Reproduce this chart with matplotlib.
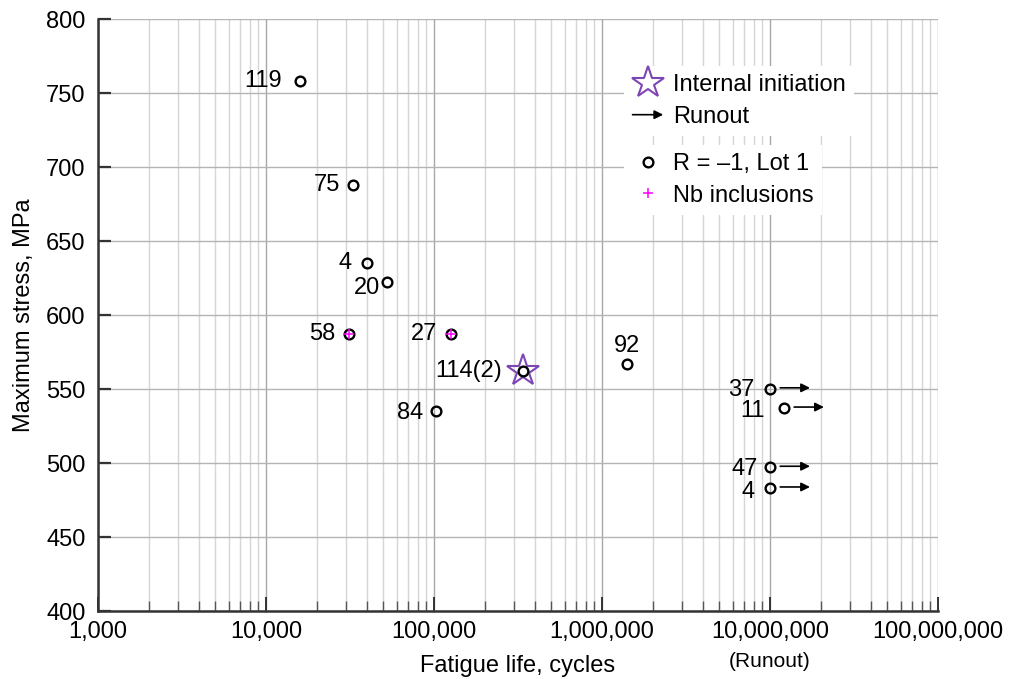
import matplotlib
matplotlib.use("Agg")
import matplotlib.pyplot as plt
from matplotlib.lines import Line2D
from matplotlib.legend_handler import HandlerBase
from matplotlib.patches import FancyArrowPatch
from matplotlib.ticker import FixedLocator, LogLocator, NullFormatter, FuncFormatter
from matplotlib.transforms import blended_transform_factory

plt.rcParams['font.family'] = ['Liberation Sans', 'DejaVu Sans']

# ---- data ----
cycles = [15900, 33000, 40000, 52500, 31200, 126000, 339000, 103000, 1410000,
          1.0e7, 1.21e7, 1.0e7, 1.0e7]
stress = [758, 688, 635, 622, 587, 587.5, 562, 535, 567, 550, 537, 497, 483]
labels = ['119', '75', '4', '20', '58', '27', '114(2)', '84', '92', '37', '11', '47', '4']
runout = [False] * 9 + [True] * 4
nb_inclusion = ['58', '27']
internal_init = ['114(2)']
x_ticks = [1e3, 1e4, 1e5, 1e6, 1e7, 1e8]
y_ticks = [400, 450, 500, 550, 600, 650, 700, 750, 800]

# label offsets (points): dx, dy, ha
label_offsets = [(-13, 0, 'right'), (-9, 0, 'right'), (-11, 0, 'right'), (-5, -4, 'right'),
                 (-10, 0, 'right'), (-10, 0, 'right'), (-15, 0, 'right'), (-9, -1, 'right'),
                 (0, 13, 'center'), (-11, -1, 'right'), (-14, -2, 'right'), (-9, -1, 'right'),
                 (-11, -3, 'right')]

FS = 17
PURPLE = '#7e45b5'

fig = plt.figure(figsize=(10.1, 6.79), dpi=100)
ax = fig.add_axes([98 / 1010, 68 / 679, 840 / 1010, 592 / 679])
ax.set_xscale('log')
ax.set_xlim(1e3, 1e8)
ax.set_ylim(400, 800)

# grid
ax.xaxis.set_major_locator(FixedLocator(x_ticks))
ax.xaxis.set_minor_locator(LogLocator(base=10, subs=range(2, 10), numticks=20))
ax.xaxis.set_minor_formatter(NullFormatter())
ax.xaxis.set_major_formatter(FuncFormatter(lambda v, p: f"{int(round(v)):,}"))
ax.yaxis.set_major_locator(FixedLocator(y_ticks))
ax.grid(True, which='major', axis='x', color='#a8a8a8', lw=1.0)
ax.grid(True, which='minor', axis='x', color='#d6d6d6', lw=1.0)
ax.grid(True, which='major', axis='y', color='#b4b4b4', lw=1.0)
ax.set_axisbelow(True)

for s in ['top', 'right']:
    ax.spines[s].set_visible(False)
for s in ['left', 'bottom']:
    ax.spines[s].set_color('#333333')
    ax.spines[s].set_linewidth(1.8)

ax.tick_params(axis='x', which='major', direction='in', length=10, width=1.4,
               color='#333333', labelsize=FS, pad=7)
ax.tick_params(axis='x', which='minor', direction='in', length=7, width=1.0,
               color='#555555')
ax.tick_params(axis='y', which='major', direction='in', length=9.5, width=1.6,
               color='#333333', labelsize=FS, pad=9)

ax.set_xlabel('Fatigue life, cycles', fontsize=FS, labelpad=9)
ax.set_ylabel('Maximum stress, MPa', fontsize=FS, labelpad=8)

trans = blended_transform_factory(ax.transData, ax.transAxes)
ax.text(1e7, -0.085, '(Runout)', transform=trans, ha='center', va='center', fontsize=15)

# internal initiation star
for x, y, lab in zip(cycles, stress, labels):
    if lab in internal_init:
        ax.plot([x], [y], marker='*', ms=24, mfc='none', mec=PURPLE, mew=1.5,
                ls='none', zorder=3)

# circles
ax.plot(cycles, stress, ls='none', marker='o', ms=7, mfc='none', mec='black',
        mew=1.7, zorder=4)

# Nb inclusions
for x, y, lab in zip(cycles, stress, labels):
    if lab in nb_inclusion:
        ax.plot([x], [y], marker='+', ms=6.5, mec='#ff00ff', mew=1.1, ls='none', zorder=5)

# runout arrows
for x, y, r in zip(cycles, stress, runout):
    if r:
        ax.annotate('', xy=(x * 1.73, y + 0.8), xytext=(x * 1.15, y + 0.8),
                    arrowprops=dict(arrowstyle='-|>', color='black', lw=1.2,
                                    mutation_scale=13, shrinkA=0, shrinkB=0),
                    zorder=4)

# point labels
for x, y, lab, (dx, dy, ha) in zip(cycles, stress, labels, label_offsets):
    ax.annotate(lab, xy=(x, y), xytext=(dx, dy), textcoords='offset points',
                ha=ha, va='center', fontsize=FS, zorder=6)


class ArrowHandler(HandlerBase):
    def create_artists(self, legend, orig_handle, xdescent, ydescent, width,
                       height, fontsize, trans):
        yc = 0.5 * height - ydescent
        p = FancyArrowPatch((-xdescent, yc), (width - xdescent, yc),
                            arrowstyle='-|>', mutation_scale=13, color='black',
                            lw=1.2, shrinkA=0, shrinkB=0, transform=trans)
        return [p]


h_star = Line2D([], [], marker='*', ms=24, mfc='none', mec=PURPLE, mew=1.5, ls='none')
h_arrow = Line2D([], [])
leg1 = ax.legend([h_star, h_arrow], ['Internal initiation', 'Runout'],
                 handler_map={h_arrow: ArrowHandler()},
                 loc='upper left', bbox_to_anchor=(0.6265, 0.921), borderaxespad=0,
                 fontsize=FS, handlelength=1.3, handletextpad=0.4, labelspacing=0.42,
                 frameon=True, fancybox=False, framealpha=1, edgecolor='none',
                 facecolor='white', borderpad=0.35, numpoints=1)
ax.add_artist(leg1)

h_circ = Line2D([], [], marker='o', ms=7, mfc='none', mec='black', mew=1.7, ls='none')
h_plus = Line2D([], [], marker='+', ms=6.5, mec='#ff00ff', mew=1.1, ls='none')
leg2 = ax.legend([h_circ, h_plus], ['R = \u20131, Lot 1', 'Nb inclusions'],
                 loc='upper left', bbox_to_anchor=(0.6265, 0.788), borderaxespad=0,
                 fontsize=FS, handlelength=1.3, handletextpad=0.4, labelspacing=0.42,
                 frameon=True, fancybox=False, framealpha=1, edgecolor='none',
                 facecolor='white', borderpad=0.35, numpoints=1)

fig.savefig('out.png', dpi=100)
